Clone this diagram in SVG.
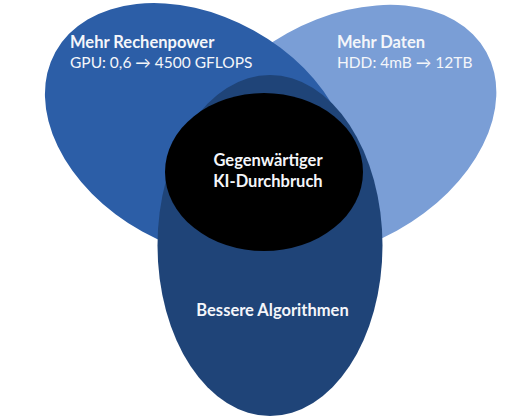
<svg xmlns="http://www.w3.org/2000/svg" width="508" height="418" viewBox="0 0 508 418">
  <style>
    .lbl { font-family: Lato, "Open Sans", "Liberation Sans", sans-serif; fill: #F4F6FA; font-size: 15.5px; }
    .b { font-weight: bold; font-size: 16.5px; }
  </style>
  <rect width="508" height="418" fill="#FFFFFF"/>

  <!-- data circle (drawn first, lies underneath) -->
  <g id="node-daten">
    <ellipse cx="342" cy="132" rx="165" ry="113" transform="rotate(-29 342 132)" fill="#7A9ED6"/>
    <text class="lbl b" x="337" y="48">Mehr Daten</text>
    <text class="lbl" x="337" y="68">HDD: 4mB → 12TB</text>
  </g>

  <!-- compute circle -->
  <g id="node-rechenpower">
    <ellipse cx="198" cy="131" rx="163" ry="115" transform="rotate(29 198 131)" fill="#2C5EA7"/>
    <text class="lbl b" x="70" y="48">Mehr Rechenpower</text>
    <text class="lbl" x="70" y="68">GPU: 0,6 → 4500 GFLOPS</text>
  </g>

  <!-- algorithms circle -->
  <g id="node-algorithmen">
    <ellipse cx="270" cy="245.5" rx="112.5" ry="170.5" fill="#1F4478"/>
    <text class="lbl b" x="272.5" y="316" text-anchor="middle">Bessere Algorithmen</text>
  </g>

  <!-- overlap in the middle -->
  <g id="node-durchbruch">
    <ellipse cx="264" cy="172" rx="99" ry="79" fill="#000000"/>
    <text class="lbl b" x="268" y="166" text-anchor="middle">Gegenwärtiger</text>
    <text class="lbl b" x="268" y="187" text-anchor="middle">KI-Durchbruch</text>
  </g>
</svg>
